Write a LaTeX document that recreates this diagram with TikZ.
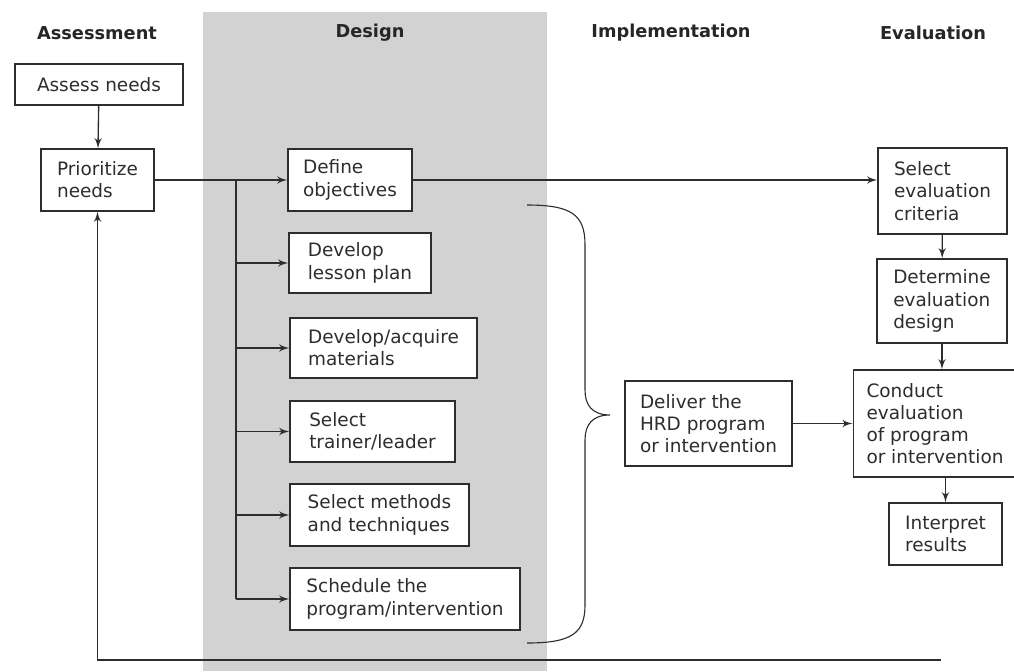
\documentclass[tikz,border=0pt]{standalone}
\usepackage{fontspec}
\setmainfont{DejaVu Sans}
\usetikzlibrary{arrows}
\definecolor{bandgray}{RGB}{210,210,210}
\definecolor{inkgray}{RGB}{45,45,45}
\tikzset{stepbox/.style 2 args = {shape=rectangle,draw=inkgray,fill=white,align=left,inner xsep=6pt,
    minimum width=#1*0.45pt,minimum height=#2*0.45pt,text=inkgray,font=\fontsize{8.3}{10}\selectfont}}
\tikzset{phase/.style = {text=black!85,font=\fontsize{8}{10}\selectfont\bfseries}}
\tikzset{edge/.style = {->,> = latex',draw=inkgray}}

\begin{document}
\begin{tikzpicture}[x=0.45pt,y=-0.45pt,line width=0.6pt]
		\useasboundingbox (0,0) rectangle (1014,671);
		\fill[bandgray] (203,12) rectangle (547,671);

		% phases
		\node[phase] (hassess) at (97,33)  {Assessment};
		\node[phase] (hdesign) at (370,33) {Design};
		\node[phase] (himpl)   at (671,33) {Implementation};
		\node[phase] (heval)   at (933,33) {Evaluation};

		% steps
		\node[stepbox={168}{41}] (assess)    at (99,84.5)   {Assess needs};
		\node[stepbox={113}{62}] (prior)     at (97.5,180)  {Prioritize\\needs};
		\node[stepbox={124}{62}] (define)    at (350,180)   {Define\\objectives};
		\node[stepbox={142}{60}] (lesson)    at (360,263)   {Develop\\lesson plan};
		\node[stepbox={187}{60}] (materials) at (383.5,348) {Develop/acquire\\materials};
		\node[stepbox={165}{61}] (trainer)   at (372.5,431.5) {Select\\trainer/leader};
		\node[stepbox={179}{62}] (methods)   at (379.5,515) {Select methods\\and techniques};
		\node[stepbox={230}{62}] (schedule)  at (405,599)   {Schedule the\\program/intervention};
		\node[stepbox={167}{85}] (deliver)   at (708.5,423.5) {Deliver the\\HRD program\\or intervention};
		\node[stepbox={129}{86}] (criteria)  at (942.5,191) {Select\\evaluation\\criteria};
		\node[stepbox={130}{84}] (evdesign)  at (942,301)   {Determine\\evaluation\\design};
		\node[stepbox={156}{107}] (conduct)  at (935,423.5) {Conduct\\evaluation\\of program\\or intervention};
		\node[stepbox={113}{62}] (interpret) at (945.5,534) {Interpret\\results};

		\coordinate (branch) at (236,180);
		\coordinate (fbstart) at (941,660);

		% edges
		\draw[edge] (assess) to (prior);
		\draw[edge] (prior) to (define);
		\draw[edge] (define.east) to (define.east -| criteria.west);
		\draw[draw=inkgray] (branch) to (branch |- schedule.west);
		\draw[edge] (branch |- lesson.west) to (lesson.west);
		\draw[edge] (branch |- materials.west) to (materials.west);
		\draw[edge] (branch |- trainer.west) to (trainer.west);
		\draw[edge] (branch |- methods.west) to (methods.west);
		\draw[edge] (branch |- schedule.west) to (schedule.west);
		\draw[edge] (deliver) to (conduct);
		\draw[edge] (criteria) to (evdesign);
		\draw[edge] (evdesign.south) to (evdesign.south |- conduct.north);
		\draw[edge] (interpret.north |- conduct.south) to (interpret.north);
		\draw[edge] (fbstart) -| (prior.south);

		% brace
		\draw[inkgray,line width=0.5pt] (527,205) .. controls (572,205) and (585,215) .. (585,245)
			-- (585,390) .. controls (585,405) and (592,415) .. (610,415)
			.. controls (592,415) and (585,425) .. (585,440)
			-- (585,605) .. controls (585,633) and (572,643) .. (527,643);
	\end{tikzpicture}
\end{document}
